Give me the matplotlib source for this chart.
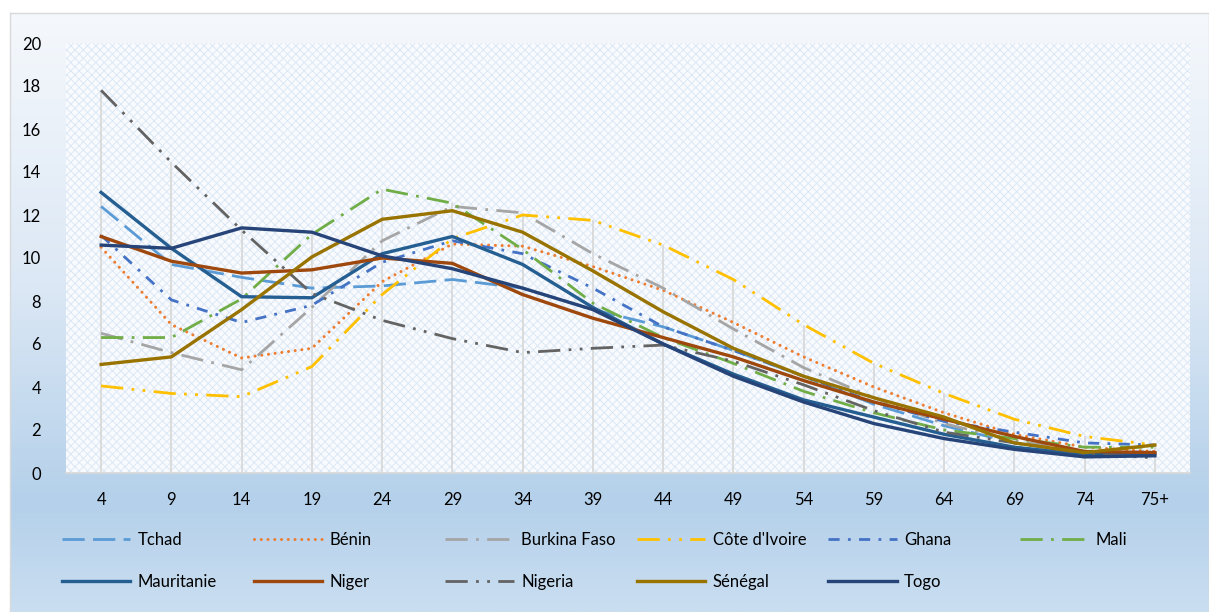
import numpy as np
import matplotlib
matplotlib.use("Agg")
import matplotlib.pyplot as plt
from matplotlib.colors import LinearSegmentedColormap
from matplotlib.patches import Rectangle

plt.rcParams['font.family'] = ['Lato', 'DejaVu Sans']
plt.rcParams['hatch.linewidth'] = 0.6

categories = ['4', '9', '14', '19', '24', '29', '34', '39', '44', '49', '54', '59', '64', '69', '74', '75+']

tchad      = [12.4, 9.7, 9.1, 8.6, 8.7, 9.0, 8.6, 7.6, 6.8, 5.7, 4.5, 3.2, 2.2, 1.4, 0.9, 1.0]
benin      = [10.5, 6.9, 5.35, 5.8, 8.9, 10.65, 10.55, 9.6, 8.5, 7.0, 5.4, 4.0, 2.8, 1.8, 1.2, 1.0]
burkina    = [6.5, 5.6, 4.8, 7.7, 10.8, 12.4, 12.1, 10.2, 8.6, 6.7, 4.9, 3.5, 2.3, 1.5, 1.0, 0.9]
cote       = [4.05, 3.7, 3.55, 4.95, 8.3, 10.9, 12.0, 11.75, 10.6, 9.0, 6.9, 5.1, 3.7, 2.5, 1.7, 1.3]
ghana      = [11.05, 8.05, 7.0, 7.8, 9.8, 10.8, 10.2, 8.6, 6.8, 5.7, 4.5, 3.3, 2.4, 1.9, 1.4, 1.3]
mali       = [6.3, 6.3, 8.1, 11.1, 13.2, 12.55, 10.4, 7.9, 6.3, 5.1, 3.8, 2.8, 2.0, 1.6, 1.2, 1.2]
mauritanie = [13.05, 10.45, 8.2, 8.15, 10.2, 11.0, 9.7, 7.7, 6.0, 4.6, 3.4, 2.6, 1.8, 1.2, 0.85, 0.9]
niger      = [11.0, 9.85, 9.3, 9.45, 10.0, 9.75, 8.3, 7.2, 6.3, 5.4, 4.3, 3.3, 2.5, 1.7, 1.0, 0.95]
nigeria    = [17.8, 14.45, 11.3, 8.35, 7.1, 6.25, 5.6, 5.8, 5.95, 5.2, 4.1, 2.9, 1.9, 1.4, 0.9, 0.7]
senegal    = [5.05, 5.4, 7.6, 10.05, 11.8, 12.2, 11.2, 9.4, 7.5, 5.8, 4.5, 3.5, 2.6, 1.4, 0.95, 1.3]
togo       = [10.6, 10.45, 11.4, 11.2, 10.1, 9.5, 8.6, 7.6, 6.0, 4.5, 3.3, 2.3, 1.6, 1.1, 0.75, 0.8]

names = ['Tchad', 'Bénin', 'Burkina Faso', "Côte d'Ivoire", 'Ghana', 'Mali',
         'Mauritanie', 'Niger', 'Nigeria', 'Sénégal', 'Togo']
series = [tchad, benin, burkina, cote, ghana, mali, mauritanie, niger, nigeria, senegal, togo]
colors = ['#5B9BD5', '#ED7D31', '#A5A5A5', '#FFC000', '#4472C4', '#70AD47',
          '#255E91', '#9E480E', '#636363', '#997300', '#264478']
styles = [
    dict(ls=(0, (8, 3)), lw=2.0),
    dict(ls=(0, (0.01, 2.2)), lw=2.2, dash_capstyle='round'),
    dict(ls=(0, (8, 3, 1, 3)), lw=2.0),
    dict(ls=(0, (8, 3, 1, 3, 1, 3)), lw=2.0),
    dict(ls=(0, (4, 3, 1, 3)), lw=2.0),
    dict(ls=(0, (8, 3, 1, 3)), lw=2.0),
    dict(ls='-', lw=2.4),
    dict(ls='-', lw=2.4),
    dict(ls=(0, (8, 3, 1, 3, 1, 3)), lw=2.0),
    dict(ls='-', lw=2.4),
    dict(ls='-', lw=2.4),
]

W, H = 1209, 612
fig = plt.figure(figsize=(W / 100, H / 100), dpi=100)
fig.patch.set_facecolor('white')

# chart-area gradient background
bg = fig.add_axes([10 / W, 0, 1 - 10 / W, (H - 13) / H])
bg.set_zorder(-10)
cmap = LinearSegmentedColormap.from_list(
    'bg', [(0.0, '#F5F8FC'), (0.45, '#DCE8F5'), (0.82, '#B4D0EA'), (1.0, '#CADEF1')])
grad = np.linspace(0, 1, 256).reshape(-1, 1)
bg.imshow(grad, aspect='auto', cmap=cmap, extent=[0, 1, 0, 1], origin='upper')
bg.set_xlim(0, 1)
bg.set_ylim(0, 1)
for s in bg.spines.values():
    s.set_color('#D9D9D9')
    s.set_linewidth(1.0)
bg.set_xticks([])
bg.set_yticks([])

# plot area
L, R, T, B = 66, 1190, 43, 473
ax = fig.add_axes([L / W, (H - B) / H, (R - L) / W, (B - T) / H])
ax.set_zorder(1)
ax.patch.set_alpha(0)
ax.add_patch(Rectangle((0, 0), 1, 1, transform=ax.transAxes, facecolor='#F8FAFD',
                       edgecolor='#D9E6F5', hatch='xxxx', linewidth=0, zorder=0))

x = np.arange(len(categories))
maxvals = np.max(np.array(series), axis=0)
ax.vlines(x, 0, maxvals, colors='#D9D9D9', linewidth=1.3, zorder=1)

handles = []
for name, vals, c, st in zip(names, series, colors, styles):
    kw = dict(st)
    ls = kw.pop('ls')
    lw = kw.pop('lw')
    h, = ax.plot(x, vals, color=c, linestyle=ls, linewidth=lw, label=name, zorder=2, **kw)
    handles.append(h)

ax.set_xlim(-0.5, len(categories) - 0.5)
ax.set_ylim(0, 20)
ax.set_yticks(range(0, 21, 2))
ax.set_xticks(x)
ax.set_xticklabels(categories)
ax.tick_params(axis='both', length=0, labelsize=12, colors='#000000')
ax.tick_params(axis='y', pad=18)
ax.tick_params(axis='x', pad=14)
for s in ['top', 'right', 'left']:
    ax.spines[s].set_visible(False)
ax.spines['bottom'].set_color('#D9D9D9')
ax.spines['bottom'].set_linewidth(1.3)

# legend: 2 rows x 6 columns, equal pitch
for i, (h, name) in enumerate(zip(handles, names)):
    r, c = divmod(i, 6)
    xl = 62 + c * 191.6
    yl = 540 + r * 42
    fig.legend([h], [name], loc='center left', bbox_to_anchor=(xl / W, 1 - yl / H),
               frameon=False, borderpad=0, borderaxespad=0, handlelength=4.1,
               handletextpad=0.45, fontsize=12)

fig.savefig('out.png', dpi=100)
